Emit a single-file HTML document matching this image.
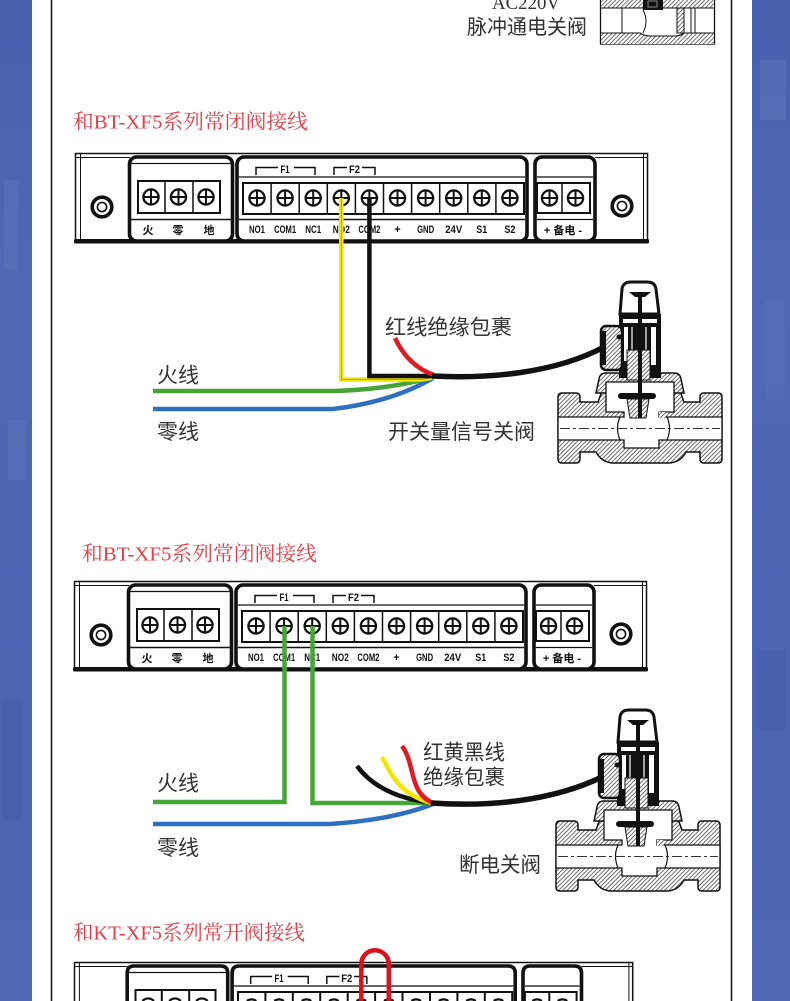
<!DOCTYPE html>
<html><head><meta charset="utf-8">
<style>
html,body{margin:0;padding:0;background:#fff;width:790px;height:1001px;overflow:hidden}
svg{display:block}
.cj{font-family:"Liberation Sans","Noto Sans CJK SC",sans-serif;fill:#333}
.tt{font-family:"Liberation Serif","Noto Serif CJK SC",serif;fill:#e43d47}
.tl{font-family:"Liberation Sans",sans-serif;font-weight:bold;fill:#111;font-size:11px}
.tc{font-family:"Liberation Sans","Noto Sans CJK SC",sans-serif;font-weight:bold;fill:#111;font-size:11px}
</style></head>
<body>
<svg width="790" height="1001" viewBox="0 0 790 1001" xmlns="http://www.w3.org/2000/svg">
<defs>
<pattern id="h" width="3" height="3" patternUnits="userSpaceOnUse" patternTransform="rotate(45)">
<rect width="3" height="3" fill="#fff"/><line x1="0" y1="0" x2="0" y2="3" stroke="#222" stroke-width="1.3"/>
</pattern>
<linearGradient id="bl" x1="0" y1="0" x2="0" y2="1">
<stop offset="0" stop-color="#4761ae"/><stop offset="0.3" stop-color="#5169b4"/><stop offset="0.6" stop-color="#4c65b2"/><stop offset="1" stop-color="#5068b3"/>
</linearGradient>
<g id="t"><circle r="7.6" fill="#fff" stroke="#111" stroke-width="2.3"/><path d="M-7.6 0 H7.6 M0 -7.6 V7.6" stroke="#111" stroke-width="2"/></g>
<g id="blk">
<rect x="75.5" y="153.5" width="572" height="88" fill="#fff" stroke="#111" stroke-width="1.5"/>
<path d="M76 157.5 H130 M595 157.5 H647 M80.5 154 V240 M643.5 154 V240" stroke="#111" stroke-width="1"/>
<rect x="74" y="239" width="575" height="4.5" rx="1.5" fill="#111"/>
<circle cx="102" cy="207" r="9.8" fill="none" stroke="#111" stroke-width="3.6"/>
<circle cx="102" cy="207" r="4.6" fill="none" stroke="#111" stroke-width="1.6"/>
<circle cx="622" cy="206" r="9.8" fill="none" stroke="#111" stroke-width="3.6"/>
<circle cx="622" cy="206" r="4.6" fill="none" stroke="#111" stroke-width="1.6"/>
<rect x="129.5" y="157" width="103" height="84" rx="7" fill="#fff" stroke="#111" stroke-width="3.6"/>
<path d="M131 163.5 H231" stroke="#111" stroke-width="1.2"/>
<rect x="138" y="181" width="82" height="32" fill="#fff" stroke="#111" stroke-width="2"/>
<path d="M165 181 V213 M193 181 V213 M131 219.5 H231" stroke="#111" stroke-width="1.5"/>
<rect x="237" y="157" width="290" height="84" rx="7" fill="#fff" stroke="#111" stroke-width="3.6"/>
<path d="M239 177 H525" stroke="#111" stroke-width="1.2"/>
<path d="M256 175 V167.5 H278 M294 167.5 H315 V175 M334 175 V167.5 H347 M362 167.5 H375 V175" fill="none" stroke="#111" stroke-width="1.5"/>
<rect x="243" y="183" width="281" height="31" fill="#fff" stroke="#111" stroke-width="2"/>
<path d="M271.1 183 V214 M299.2 183 V214 M327.3 183 V214 M355.4 183 V214 M383.5 183 V214 M411.6 183 V214 M439.7 183 V214 M467.8 183 V214 M495.9 183 V214 M239 219.5 H525" stroke="#111" stroke-width="1.5"/>
<rect x="535" y="157" width="60" height="84" rx="7" fill="#fff" stroke="#111" stroke-width="3.6"/>
<path d="M537 177 H593 M537 219.5 H593" stroke="#111" stroke-width="1.2"/>
<rect x="537" y="183" width="53" height="30" fill="#fff" stroke="#111" stroke-width="2"/>
<path d="M562 183 V213" stroke="#111" stroke-width="1.5"/>
<use href="#t" x="151" y="197"/><use href="#t" x="178.5" y="197"/><use href="#t" x="206" y="197"/>
<use href="#t" x="257" y="198"/><use href="#t" x="285.1" y="198"/><use href="#t" x="313.2" y="198"/>
<use href="#t" x="341.3" y="198"/><use href="#t" x="369.4" y="198"/><use href="#t" x="397.5" y="198"/>
<use href="#t" x="425.6" y="198"/><use href="#t" x="453.7" y="198"/><use href="#t" x="481.8" y="198"/>
<use href="#t" x="509.9" y="198"/>
<use href="#t" x="549.5" y="198"/><use href="#t" x="575.5" y="198"/>
</g>
<g id="valve">
<path d="M558 397 Q558 393 562 393 H576 Q580 393 580 397 V402 H598 L602 391 H680 L684 402 H700 V397 Q700 393 704 393 H718 Q722 393 722 397 V459 Q722 463 718 463 H704 Q700 463 700 459 V452 H686 Q680 463 668 463 H614 Q602 463 596 452 H580 V459 Q580 463 576 463 H562 Q558 463 558 459 Z" fill="url(#h)" stroke="#111" stroke-width="1.5"/>
<path d="M596 393 L599 379 Q600 373 606 373 H674 Q680 373 681 379 L684 393 Z" fill="url(#h)" stroke="#111" stroke-width="1.5"/>
<path d="M558 417 H624 V412 H606 V382 H674 V412 H659 V417 H722 V440 H659 V448 H624 V440 H558 Z" fill="#fff" stroke="#111" stroke-width="1.3"/>
<path d="M620 417 Q615 428 620 440 M667 417 Q672 428 667 440" fill="none" stroke="#111" stroke-width="1.2"/>
<rect x="659" y="412" width="7" height="6" fill="url(#h)"/>
<path d="M560 428.5 H720" stroke="#333" stroke-width="1" stroke-dasharray="10 3 3 3"/>
<rect x="618" y="393" width="38" height="6" rx="3" fill="#111"/>
<path d="M627 399 H649 L646 418 H630 Z" fill="url(#h)" stroke="#111" stroke-width="1"/>
<rect x="619" y="314" width="42" height="64" fill="#111"/>
<rect x="623" y="319" width="34" height="4" fill="#fff"/>
<rect x="624" y="327" width="4" height="34" fill="#fff"/>
<rect x="651" y="327" width="5" height="38" fill="#fff"/>
<path d="M632 327 V350 M646 327 V350" stroke="#fff" stroke-width="1.2"/>
<rect x="627" y="350" width="23" height="30" fill="url(#h)" stroke="#111" stroke-width="1"/>
<path d="M620 314 L622 289 Q623 282 631 282 H647 Q655 282 656 289 L659 314 Z" fill="#fff" stroke="#111" stroke-width="3"/>
<path d="M629 292 H651 L645 297 H635 Z" fill="#111"/>
<rect x="638" y="292" width="4" height="126" fill="#111"/>
<rect x="601" y="326" width="21" height="44" rx="5" fill="url(#h)" stroke="#111" stroke-width="2.5"/>
<rect x="601" y="331" width="5" height="34" fill="#111"/>
<circle cx="619" cy="337" r="2.5" fill="#111"/>
</g>
</defs>

<!-- side panels -->
<rect x="0" y="0" width="32" height="1001" fill="url(#bl)"/>
<rect x="752" y="0" width="38" height="1001" fill="url(#bl)"/>
<rect x="4" y="180" width="14" height="90" fill="#5d74bc" opacity="0.5"/>
<rect x="8" y="420" width="18" height="60" fill="#5f76be" opacity="0.45"/>
<rect x="2" y="700" width="20" height="120" fill="#4359a6" opacity="0.4"/>
<rect x="760" y="60" width="26" height="60" fill="#6278bf" opacity="0.45"/>
<rect x="765" y="300" width="20" height="100" fill="#5d73bc" opacity="0.4"/>
<rect x="756" y="650" width="30" height="80" fill="#4459a5" opacity="0.4"/>
<line x1="51.5" y1="0" x2="51.5" y2="1001" stroke="#111" stroke-width="1.5"/>
<line x1="731.5" y1="0" x2="731.5" y2="1001" stroke="#111" stroke-width="1.5"/>

<!-- top partial -->
<text x="492" y="9" font-family="Liberation Serif, serif" font-size="19" fill="#333" textLength="68" lengthAdjust="spacingAndGlyphs">AC220V</text>
<text class="cj" x="467" y="34" font-size="20.5" textLength="120" lengthAdjust="spacingAndGlyphs">脉冲通电关阀</text>
<g>
<rect x="600.5" y="0" width="114" height="44" fill="#fff" stroke="#111" stroke-width="1.3"/>
<rect x="601" y="0" width="113" height="8" fill="url(#h)"/>
<path d="M601 33 H640 Q645 36 650 36 H675 Q680 36 684 33 H714 V44 H601 Z" fill="url(#h)"/>
<path d="M601 8 H643 M663 8 H677 M684 8 H714 M601 33 H640 Q645 36 650 36 H675 Q680 36 684 33 H714" fill="none" stroke="#111" stroke-width="1.1"/>
<rect x="677" y="8" width="7" height="25" fill="url(#h)" stroke="#111" stroke-width="1"/>
<rect x="643" y="0" width="20" height="10" fill="#111"/>
<rect x="648" y="1" width="9" height="6" fill="none" stroke="#888" stroke-width="1"/>
<path d="M622 8 V33 M691 8 V33 M695 8 V33" stroke="#111" stroke-width="1"/>
<path d="M643 10 Q649 21 643 33" fill="none" stroke="#111" stroke-width="1"/>
</g>

<!-- ===== Section 1 ===== -->
<text class="tt" x="73" y="128.5" font-size="20.5" textLength="235" lengthAdjust="spacingAndGlyphs">和BT-XF5系列常闭阀接线</text>
<use href="#blk"/>
<g>
<text class="tc" x="148" y="234" text-anchor="middle">火</text>
<text class="tc" x="178" y="234" text-anchor="middle">零</text>
<text class="tc" x="209" y="234" text-anchor="middle">地</text>
<text class="tl" x="257" y="233" text-anchor="middle" textLength="16" lengthAdjust="spacingAndGlyphs">NO1</text>
<text class="tl" x="285.1" y="233" text-anchor="middle" textLength="22" lengthAdjust="spacingAndGlyphs">COM1</text>
<text class="tl" x="313.2" y="233" text-anchor="middle" textLength="16" lengthAdjust="spacingAndGlyphs">NC1</text>
<text class="tl" x="341.3" y="233" text-anchor="middle" textLength="17" lengthAdjust="spacingAndGlyphs">NO2</text>
<text class="tl" x="369.4" y="233" text-anchor="middle" textLength="22" lengthAdjust="spacingAndGlyphs">COM2</text>
<text class="tl" x="397.5" y="233" text-anchor="middle">+</text>
<text class="tl" x="425.6" y="233" text-anchor="middle" textLength="17" lengthAdjust="spacingAndGlyphs">GND</text>
<text class="tl" x="453.7" y="233" text-anchor="middle" textLength="17" lengthAdjust="spacingAndGlyphs">24V</text>
<text class="tl" x="481.8" y="233" text-anchor="middle" textLength="11" lengthAdjust="spacingAndGlyphs">S1</text>
<text class="tl" x="509.9" y="233" text-anchor="middle" textLength="11" lengthAdjust="spacingAndGlyphs">S2</text>
<text class="tc" x="563" y="234" text-anchor="middle" font-size="10.5">+ 备电 -</text>
<text class="tl" x="285" y="173" text-anchor="middle" font-size="9" textLength="9" lengthAdjust="spacingAndGlyphs">F1</text>
<text class="tl" x="354.5" y="173" text-anchor="middle" font-size="9" textLength="11" lengthAdjust="spacingAndGlyphs">F2</text>
</g>
<!-- wires 1 -->
<path d="M153 391 H335 Q392 389 433 377" fill="none" stroke="#46a535" stroke-width="4.5"/>
<path d="M153 409 H333 Q392 402 433 378" fill="none" stroke="#2e6fc0" stroke-width="4.5"/>
<path d="M341.3 198 V379.5 H420 Q428 379 433 377" fill="none" stroke="#f3e600" stroke-width="4.5"/>
<path d="M341.3 198 V379.5 H420 Q428 379 433 377" fill="none" stroke="#888" stroke-width="0.7"/>
<path d="M369.4 198 V376 H434" fill="none" stroke="#111" stroke-width="4.5"/>
<path d="M395 338 Q408 366 434 375" fill="none" stroke="#e01b22" stroke-width="4.5"/>
<path d="M432 376 C490 379 555 373 604 347" fill="none" stroke="#111" stroke-width="5.5"/>
<use href="#valve"/>
<text class="cj" x="385" y="334.5" font-size="21" textLength="127" lengthAdjust="spacingAndGlyphs">红线绝缘包裹</text>
<text class="cj" x="157" y="382.5" font-size="21" textLength="42" lengthAdjust="spacingAndGlyphs">火线</text>
<text class="cj" x="157" y="439" font-size="21" textLength="42" lengthAdjust="spacingAndGlyphs">零线</text>
<text class="cj" x="388" y="439" font-size="21" textLength="147" lengthAdjust="spacingAndGlyphs">开关量信号关阀</text>

<!-- ===== Section 2 ===== -->
<text class="tt" x="82" y="560.5" font-size="20.5" textLength="235" lengthAdjust="spacingAndGlyphs">和BT-XF5系列常闭阀接线</text>
<g transform="translate(-1,428)">
<use href="#blk"/>
<text class="tc" x="148" y="234" text-anchor="middle">火</text>
<text class="tc" x="178" y="234" text-anchor="middle">零</text>
<text class="tc" x="209" y="234" text-anchor="middle">地</text>
<text class="tl" x="257" y="233" text-anchor="middle" textLength="16" lengthAdjust="spacingAndGlyphs">NO1</text>
<text class="tl" x="285.1" y="233" text-anchor="middle" textLength="22" lengthAdjust="spacingAndGlyphs">COM1</text>
<text class="tl" x="313.2" y="233" text-anchor="middle" textLength="16" lengthAdjust="spacingAndGlyphs">NC1</text>
<text class="tl" x="341.3" y="233" text-anchor="middle" textLength="17" lengthAdjust="spacingAndGlyphs">NO2</text>
<text class="tl" x="369.4" y="233" text-anchor="middle" textLength="22" lengthAdjust="spacingAndGlyphs">COM2</text>
<text class="tl" x="397.5" y="233" text-anchor="middle">+</text>
<text class="tl" x="425.6" y="233" text-anchor="middle" textLength="17" lengthAdjust="spacingAndGlyphs">GND</text>
<text class="tl" x="453.7" y="233" text-anchor="middle" textLength="17" lengthAdjust="spacingAndGlyphs">24V</text>
<text class="tl" x="481.8" y="233" text-anchor="middle" textLength="11" lengthAdjust="spacingAndGlyphs">S1</text>
<text class="tl" x="509.9" y="233" text-anchor="middle" textLength="11" lengthAdjust="spacingAndGlyphs">S2</text>
<text class="tc" x="563" y="234" text-anchor="middle" font-size="10.5">+ 备电 -</text>
<text class="tl" x="285" y="173" text-anchor="middle" font-size="9" textLength="9" lengthAdjust="spacingAndGlyphs">F1</text>
<text class="tl" x="354.5" y="173" text-anchor="middle" font-size="9" textLength="11" lengthAdjust="spacingAndGlyphs">F2</text>
</g>
<!-- wires 2 -->
<path d="M153 824 H330 Q392 820 433 804" fill="none" stroke="#2e6fc0" stroke-width="4.5"/>
<path d="M284.5 626 V802 H153" fill="none" stroke="#46a535" stroke-width="4.5"/>
<path d="M312.5 626 V803 H434" fill="none" stroke="#46a535" stroke-width="4.5"/>
<path d="M357 766 Q380 797 433 803" fill="none" stroke="#111" stroke-width="4.5"/>
<path d="M382 757 C392 776 400 794 431 803" fill="none" stroke="#f3e600" stroke-width="4.5"/>
<path d="M402 746 C416 765 408 792 433 803" fill="none" stroke="#e01b22" stroke-width="4.5"/>
<path d="M431 803 C490 807 552 801 602 777" fill="none" stroke="#111" stroke-width="5.5"/>
<use href="#valve" transform="translate(-2,428)"/>
<text class="cj" x="423" y="759.5" font-size="21" textLength="82" lengthAdjust="spacingAndGlyphs">红黄黑线</text>
<text class="cj" x="423" y="784.5" font-size="21" textLength="82" lengthAdjust="spacingAndGlyphs">绝缘包裹</text>
<text class="cj" x="157" y="790.5" font-size="21" textLength="42" lengthAdjust="spacingAndGlyphs">火线</text>
<text class="cj" x="157" y="855" font-size="21" textLength="42" lengthAdjust="spacingAndGlyphs">零线</text>
<text class="cj" x="459" y="872" font-size="21" textLength="82" lengthAdjust="spacingAndGlyphs">断电关阀</text>

<!-- ===== Section 3 (truncated at frame bottom) ===== -->
<text class="tt" x="73" y="939.5" font-size="20.5" textLength="232" lengthAdjust="spacingAndGlyphs">和KT-XF5系列常开阀接线</text>
<g fill="none" stroke="#111">
<path d="M74.5 1001 V962.5 H632.7 V1001" stroke-width="1.5"/>
<path d="M75 966.5 H127.7 M581.5 966.5 H632.3 M79.4 963 V1001 M628.9 963 V1001" stroke-width="1"/>
<path d="M127.2 1001 V973 Q127.2 966 134.2 966 H220.7 Q227.7 966 227.7 973 V1001" stroke-width="3.6"/>
<path d="M232.1 1001 V973 Q232.1 966 239.1 966 H508.2 Q515.2 966 515.2 973 V1001" stroke-width="3.6"/>
<path d="M523 1001 V973 Q523 966 530 966 H574.5 Q581.5 966 581.5 973 V1001" stroke-width="3.6"/>
<path d="M128.7 972.5 H226.3 M234 986 H513.2 M525 986 H579.5" stroke-width="1.2"/>
<path d="M250.7 984 V976.5 H272.1 M287.7 976.5 H308.2 V984 M326.8 984 V976.5 H339.5 M354.1 976.5 H366.8 V984" stroke-width="1.5"/>
<path d="M135.5 1001 V990 H215.5 V1001 M161.8 990 V1001 M189.2 990 V1001" stroke-width="2"/>
<path d="M238 1001 V992 H512.2 V1001 M265.4 992 V1001 M292.8 992 V1001 M320.2 992 V1001 M347.7 992 V1001 M375.1 992 V1001 M402.5 992 V1001 M430 992 V1001 M457.4 992 V1001 M484.8 992 V1001" stroke-width="2"/>
<path d="M524.9 1001 V992 H576.6 V1001 M549.3 992 V1001" stroke-width="2"/>
<path stroke-width="2.2" d="M142.5 1001 A7.6 7.6 0 0 1 153.9 1001 M169.3 1001 A7.6 7.6 0 0 1 180.7 1001 M196.2 1001 A7.6 7.6 0 0 1 207.6 1001 M246.9 1001 A7.6 7.6 0 0 1 256.3 1001 M274.4 1001 A7.6 7.6 0 0 1 283.8 1001 M301.8 1001 A7.6 7.6 0 0 1 311.2 1001 M329.2 1001 A7.6 7.6 0 0 1 338.6 1001 M356.6 1001 A7.6 7.6 0 0 1 366 1001 M384.1 1001 A7.6 7.6 0 0 1 393.5 1001 M411.5 1001 A7.6 7.6 0 0 1 420.9 1001 M438.9 1001 A7.6 7.6 0 0 1 448.3 1001 M466.3 1001 A7.6 7.6 0 0 1 475.7 1001 M493.8 1001 A7.6 7.6 0 0 1 503.2 1001 M532.4 1001 A7.6 7.6 0 0 1 541.8 1001 M557.8 1001 A7.6 7.6 0 0 1 567.2 1001"/>
</g>
<text class="tl" x="279" y="982" text-anchor="middle" font-size="9" textLength="9" lengthAdjust="spacingAndGlyphs">F1</text>
<text class="tl" x="346.8" y="982" text-anchor="middle" font-size="9" textLength="11" lengthAdjust="spacingAndGlyphs">F2</text>
<path d="M361.3 1001 V964 A13.75 13.75 0 0 1 388.8 964 V1001" fill="none" stroke="#d9121c" stroke-width="4.5"/>
</svg>
</body></html>
